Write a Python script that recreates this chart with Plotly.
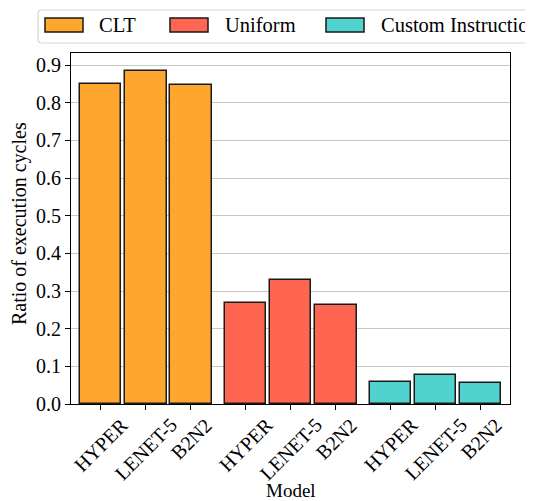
import plotly.graph_objects as go

models = ["HYPER", "LENET-5", "B2N2"]
methods = ["CLT", "Uniform", "Custom Instructions"]
clt = [0.850, 0.885, 0.847]
uniform = [0.267, 0.328, 0.262]
custom = [0.058, 0.077, 0.056]
series = [clt, uniform, custom]
colors = ["#FFA62F", "#FF6651", "#52D2CF"]
yticks = [0.0, 0.1, 0.2, 0.3, 0.4, 0.5, 0.6, 0.7, 0.8, 0.9]

GAP = 0.216
FONT = "Liberation Serif"
OFF = 8  # page body margin
W, H = 533 - OFF, 501 - OFF
L, R, T, B = 71 - OFF, 23, 53 - OFF, 97
PW, PH = W - L - R, H - T - B

def px(xp):
    return (xp - OFF - L) / PW

def py(yp):
    return (H - B - (yp - OFF)) / PH

fig = go.Figure()
tickvals, ticktext = [], []
for g, (name, vals, col) in enumerate(zip(methods, series, colors)):
    xs = [g * (len(models) + GAP) + i for i in range(len(models))]
    tickvals += xs
    ticktext += models
    fig.add_trace(go.Bar(
        x=xs, y=vals, name=name, width=0.92,
        marker=dict(color=col, line=dict(color="#1a1a1a", width=1.5)),
        showlegend=False,
    ))

fig.update_layout(
    width=W, height=H,
    margin=dict(l=L, r=R, t=T, b=B),
    paper_bgcolor="white", plot_bgcolor="white",
    font=dict(family=FONT, size=20, color="black"),
    bargap=0,
)
fig.update_xaxes(
    range=[-0.66, 2 * (len(models) + GAP) + 2 + 0.65],
    tickvals=tickvals, showticklabels=False,
    ticks="outside", ticklen=5, tickwidth=1, tickcolor="black",
    showline=True, linecolor="black", linewidth=1.2, mirror=True,
    showgrid=False, zeroline=False, automargin=False,
)
fig.update_yaxes(
    range=[0, 0.932],
    tickvals=yticks, ticktext=[f"{v:.1f}" for v in yticks],
    ticks="outside", ticklen=5, tickwidth=1, tickcolor="black",
    showline=True, linecolor="black", linewidth=1.2, mirror=True,
    showgrid=True, gridcolor="#c8c8c8", gridwidth=1,
    zeroline=False, automargin=False,
    tickfont=dict(size=20),
)

annotations = []
# rotated x tick labels, centred under each tick (matplotlib ha='center')
for xv, txt in zip(tickvals, ticktext):
    annotations.append(dict(text=txt, x=xv, xref="x", y=py(411), yref="paper",
                            xanchor="center", yanchor="top", textangle=-45,
                            showarrow=False, font=dict(family=FONT, size=20, color="black")))
# axis titles
annotations.append(dict(text="Model", x=0.5, xref="paper", y=py(490), yref="paper",
                        xanchor="center", yanchor="middle", showarrow=False,
                        font=dict(family=FONT, size=19, color="black")))
annotations.append(dict(text="Ratio of execution cycles", x=px(19), xref="paper",
                        y=py(224), yref="paper", xanchor="center", yanchor="middle",
                        textangle=-90, showarrow=False,
                        font=dict(family=FONT, size=20, color="black")))

# custom legend (wide patches like the reference)
x0, x1, y0, y1, r = 38, 600, 10, 43, 4
rx, ry = r / PW, r / PH
X0, X1, Yt, Yb = px(x0), px(x1), py(y0), py(y1)
path = (f"M{X0+rx},{Yt} L{X1-rx},{Yt} Q{X1},{Yt} {X1},{Yt-ry} L{X1},{Yb+ry} "
        f"Q{X1},{Yb} {X1-rx},{Yb} L{X0+rx},{Yb} Q{X0},{Yb} {X0},{Yb+ry} "
        f"L{X0},{Yt-ry} Q{X0},{Yt} {X0+rx},{Yt} Z")
shapes = [dict(type="path", xref="paper", yref="paper", path=path,
               line=dict(color="#d5d5d5", width=1.2), fillcolor="white", layer="above")]
patch_x = [45, 170, 326]
text_x = [97, 223, 379]
for name, col, pxx, tx in zip(methods, colors, patch_x, text_x):
    shapes.append(dict(type="rect", xref="paper", yref="paper",
                       x0=px(pxx), x1=px(pxx + 38), y0=py(32), y1=py(18),
                       line=dict(color="#1a1a1a", width=1.5), fillcolor=col, layer="above"))
    annotations.append(dict(text=name, xref="paper", yref="paper",
                            x=px(tx), y=py(25), xanchor="left", yanchor="middle",
                            showarrow=False, font=dict(family=FONT, size=20.5, color="black")))
fig.update_layout(shapes=shapes, annotations=annotations)

fig.write_html("out.html")
